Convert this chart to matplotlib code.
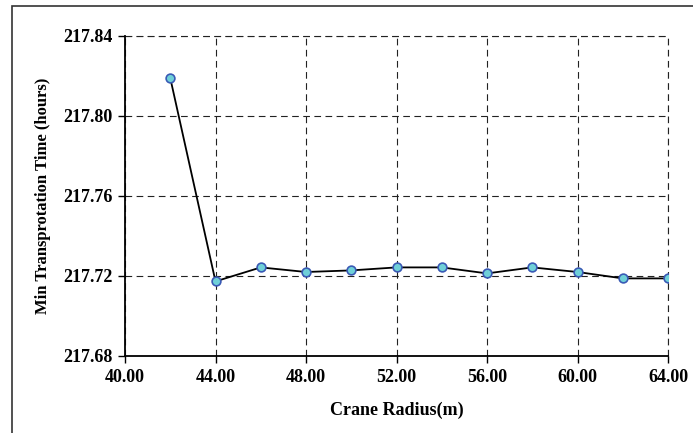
import numpy as np
import matplotlib.pyplot as plt
from matplotlib.patches import Rectangle

# crane radius (m) and minimum transportation time (hours)
radius = [42, 44, 46, 48, 50, 52, 54, 56, 58, 60, 62, 64]
min_time = [217.819, 217.7173, 217.7243, 217.722, 217.7228, 217.7243,
            217.7243, 217.7213, 217.7243, 217.722, 217.7188, 217.7188]

x_ticks = [40, 44, 48, 52, 56, 60, 64]
y_ticks = [217.68, 217.72, 217.76, 217.80, 217.84]

plt.rcParams['font.family'] = ['Liberation Serif', 'DejaVu Serif']
plt.rcParams['font.weight'] = 'bold'

fig = plt.figure(figsize=(6.93, 4.33), dpi=100)
ax = fig.add_axes([125 / 693, 1 - 356 / 433, 543 / 693, 320 / 433])

# outer frame of the chart object (cut off at right and bottom)
fig.patches.append(Rectangle((12 / 693, -0.05), 1.1, 1 - 6 / 433 + 0.05,
                             transform=fig.transFigure, fill=False,
                             edgecolor='#333333', linewidth=1.2))

dash = (0, (6, 4))

ax.plot(radius, min_time, color='black', linewidth=1.3, marker='o',
        markersize=6.3, markerfacecolor='#6fd0d8', markeredgecolor='#3a5ab5',
        markeredgewidth=1.2, zorder=3)

ax.set_xlim(40, 64)
ax.set_ylim(217.68, 217.84)
ax.set_xticks(x_ticks)
ax.set_yticks(y_ticks)
ax.set_xticklabels(['%.2f' % v for v in x_ticks])
ax.set_yticklabels(['%.2f' % v for v in y_ticks])
ax.tick_params(direction='out', length=5, width=1, labelsize=13, pad=4)

ax.grid(True, color='#222222', linestyle=dash, linewidth=0.8)
for side in ['top', 'right']:
    ax.spines[side].set_visible(False)
for side in ['left', 'bottom']:
    ax.spines[side].set_linewidth(1.3)

# dashed lines at the top and right limits
ax.axhline(217.84, color='#222222', linestyle=dash, linewidth=0.8, clip_on=False)
ax.axvline(64, color='#222222', linestyle=dash, linewidth=0.8, clip_on=False)

ax.set_xlabel('Crane Radius(m)', fontsize=13, fontweight='bold', labelpad=12)
ax.set_ylabel('Min Transprotation Time (hours)', fontsize=12, fontweight='bold', labelpad=9)

fig.savefig('out.png', dpi=100)
